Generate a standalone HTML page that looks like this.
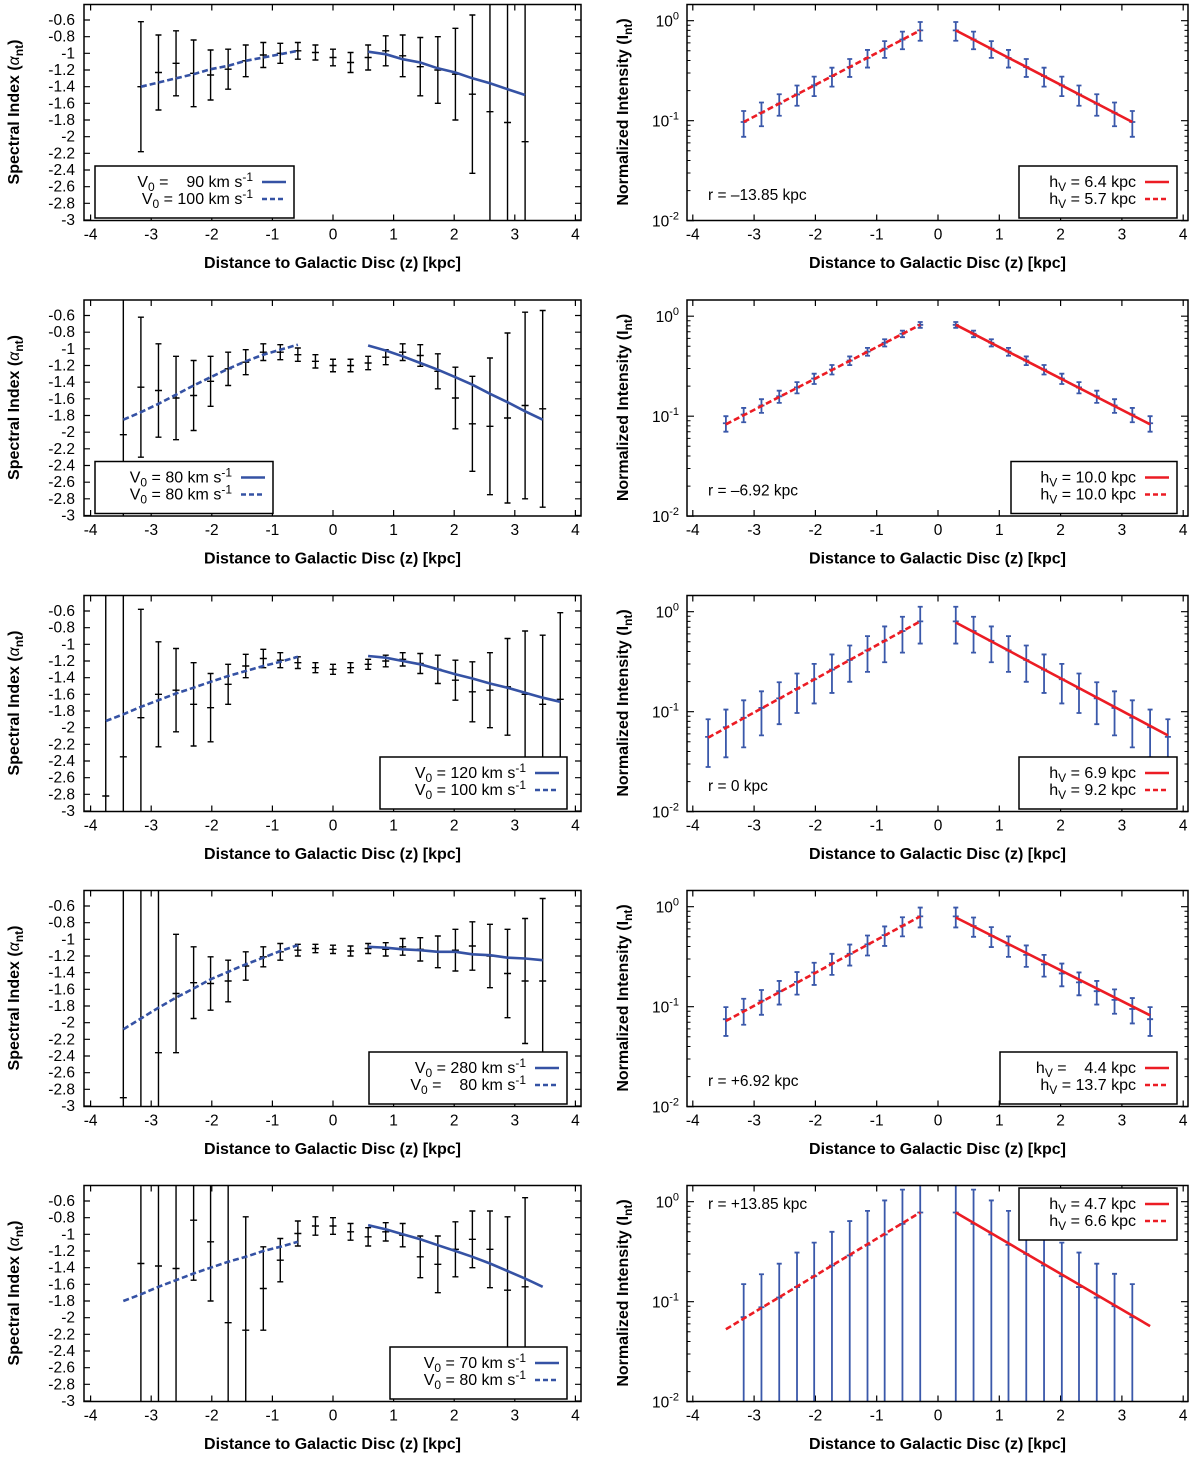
<!DOCTYPE html>
<html><head><meta charset="utf-8"><style>
html,body{margin:0;padding:0;background:#fff;overflow:hidden;}
svg{display:block;font-family:"Liberation Sans",Arial,sans-serif;}
</style></head><body>
<svg id="fig" width="1200" height="1457" viewBox="0 0 1200 1457" xmlns="http://www.w3.org/2000/svg"></svg>
<script>
// ---- shared axis data ----
const rowOffsets = [0, 295.5, 591, 886, 1181];
const xTicks = [-4,-3,-2,-1,0,1,2,3,4];
const yTicksLeft = [-0.6,-0.8,-1,-1.2,-1.4,-1.6,-1.8,-2,-2.2,-2.4,-2.6,-2.8,-3];
const yTickLabelsLeft = ["-0.6","-0.8","-1","-1.2","-1.4","-1.6","-1.8","-2","-2.2","-2.4","-2.6","-2.8","-3"];
const yDecades = [0,-1,-2];

const Z23 = [-3.17,-2.88,-2.59,-2.30,-2.02,-1.73,-1.44,-1.15,-0.87,-0.58,-0.29,0,0.29,0.58,0.87,1.15,1.44,1.73,2.02,2.30,2.59,2.88,3.17];
const Z25 = [-3.46,-3.17,-2.88,-2.59,-2.30,-2.02,-1.73,-1.44,-1.15,-0.87,-0.58,-0.29,0,0.29,0.58,0.87,1.15,1.44,1.73,2.02,2.30,2.59,2.88,3.17,3.46];
const Z27 = [-3.75,-3.46,-3.17,-2.88,-2.59,-2.30,-2.02,-1.73,-1.44,-1.15,-0.87,-0.58,-0.29,0,0.29,0.58,0.87,1.15,1.44,1.73,2.02,2.30,2.59,2.88,3.17,3.46,3.75];

// ---- left panels (spectral index) ----
const L1val = [-1.40,-1.23,-1.12,-1.24,-1.26,-1.19,-1.09,-1.02,-1.00,-0.97,-0.99,-1.05,-1.11,-1.05,-0.97,-1.03,-1.16,-1.20,-1.25,-1.49,-1.70,-1.83,-2.06];
const L1err = [0.78,0.45,0.39,0.40,0.30,0.24,0.19,0.15,0.12,0.10,0.09,0.10,0.12,0.15,0.18,0.25,0.35,0.40,0.55,0.95,3,3,3];
const L1dashZ = [-3.17,-2.88,-2.59,-2.30,-2.02,-1.73,-1.44,-1.15,-0.87,-0.58];
const L1dashV = [-1.40,-1.35,-1.30,-1.25,-1.19,-1.15,-1.09,-1.05,-1.01,-0.97];
const L1solZ = [0.58,0.87,1.15,1.44,1.73,2.02,2.30,2.59,2.88,3.17];
const L1solV = [-0.98,-1.01,-1.07,-1.11,-1.18,-1.23,-1.30,-1.36,-1.43,-1.50];

const L2val = [-2.03,-1.46,-1.50,-1.59,-1.56,-1.39,-1.24,-1.16,-1.04,-1.04,-1.07,-1.15,-1.20,-1.20,-1.17,-1.10,-1.04,-1.08,-1.27,-1.59,-1.90,-1.93,-1.83,-1.68,-1.72];
const L2err = [3,0.84,0.56,0.50,0.42,0.30,0.20,0.15,0.10,0.09,0.08,0.08,0.075,0.075,0.08,0.09,0.10,0.13,0.21,0.37,0.57,0.82,1.02,1.12,1.18];
const L2dashZ = [-3.46,-3.17,-2.88,-2.59,-2.30,-2.02,-1.73,-1.44,-1.15,-0.87,-0.58];
const L2dashV = [-1.85,-1.76,-1.66,-1.55,-1.44,-1.34,-1.24,-1.15,-1.07,-1.01,-0.95];
const L2solZ = [0.58,0.87,1.15,1.44,1.73,2.02,2.30,2.59,2.88,3.17,3.46];
const L2solV = [-0.96,-1.02,-1.09,-1.17,-1.25,-1.34,-1.43,-1.54,-1.64,-1.75,-1.85];

const L3val = [-2.82,-2.35,-1.88,-1.60,-1.55,-1.72,-1.76,-1.48,-1.26,-1.17,-1.19,-1.22,-1.28,-1.30,-1.28,-1.24,-1.20,-1.18,-1.23,-1.30,-1.43,-1.57,-1.55,-1.51,-1.60,-1.72,-1.66];
const L3err = [3,3,1.3,0.63,0.5,0.5,0.41,0.24,0.14,0.11,0.09,0.07,0.06,0.06,0.06,0.06,0.07,0.08,0.12,0.17,0.24,0.36,0.45,0.58,0.76,0.83,1.04];
const L3dashZ = [-3.75,-3.46,-3.17,-2.88,-2.59,-2.30,-2.02,-1.73,-1.44,-1.15,-0.87,-0.58];
const L3dashV = [-1.92,-1.84,-1.75,-1.67,-1.59,-1.52,-1.45,-1.38,-1.32,-1.26,-1.21,-1.15];
const L3solZ = [0.58,0.87,1.15,1.44,1.73,2.02,2.30,2.59,2.88,3.17,3.46,3.75];
const L3solV = [-1.14,-1.16,-1.20,-1.24,-1.30,-1.36,-1.41,-1.47,-1.52,-1.58,-1.64,-1.69];

const L4val = [-2.9,-0.3,-2.36,-1.65,-1.52,-1.53,-1.50,-1.32,-1.21,-1.15,-1.13,-1.11,-1.12,-1.14,-1.11,-1.12,-1.09,-1.12,-1.15,-1.13,-1.08,-1.20,-1.41,-1.50,-1.50];
const L4err = [3,3,3,0.71,0.43,0.32,0.25,0.17,0.12,0.10,0.07,0.05,0.05,0.06,0.06,0.08,0.10,0.14,0.19,0.25,0.29,0.38,0.53,0.75,0.99];
const L4dashZ = [-3.46,-3.17,-2.88,-2.59,-2.30,-2.02,-1.73,-1.44,-1.15,-0.87,-0.58];
const L4dashV = [-2.08,-1.95,-1.82,-1.70,-1.59,-1.48,-1.39,-1.30,-1.22,-1.14,-1.07];
const L4solZ = [0.58,0.87,1.15,1.44,1.73,2.02,2.30,2.59,2.88,3.17,3.46];
const L4solV = [-1.09,-1.10,-1.12,-1.13,-1.15,-1.15,-1.18,-1.19,-1.22,-1.23,-1.25];

const L5val = [-1.35,-1.38,-1.41,-0.83,-1.09,-2.06,-2.15,-1.65,-1.31,-0.99,-0.90,-0.90,-0.97,-1.03,-0.97,-1.01,-1.27,-1.36,-1.18,-1.06,-1.18,-1.67,-1.63];
const L5err = [3,3,3,0.72,0.71,3,1.36,0.50,0.26,0.15,0.11,0.10,0.10,0.11,0.11,0.14,0.25,0.34,0.33,0.34,0.46,0.88,1.07];
const L5dashZ = [-3.46,-3.17,-2.88,-2.59,-2.30,-2.02,-1.73,-1.44,-1.15,-0.87,-0.58];
const L5dashV = [-1.80,-1.72,-1.63,-1.55,-1.47,-1.40,-1.33,-1.27,-1.20,-1.15,-1.09];
const L5solZ = [0.58,0.87,1.15,1.44,1.73,2.02,2.30,2.59,2.88,3.17,3.46];
const L5solV = [-0.89,-0.94,-1.00,-1.06,-1.13,-1.20,-1.27,-1.35,-1.44,-1.53,-1.63];

const leftLegendSolid = ["\u2007 90","80","120","280","70"];
const leftLegendDash = ["100","80","100","\u2007 80","80"];

// ---- right panels (normalized intensity) ----
const R1z = [-3.17,-2.88,-2.59,-2.30,-2.02,-1.73,-1.44,-1.15,-0.87,-0.58,-0.29,0.29,0.58,0.87,1.15,1.44,1.73,2.02,2.30,2.59,2.88,3.17];
const R1v = [0.097,0.12,0.148,0.183,0.226,0.279,0.344,0.425,0.525,0.648,0.80,0.80,0.648,0.525,0.425,0.344,0.279,0.226,0.183,0.148,0.12,0.097];
const R1e = [0.028,0.032,0.036,0.042,0.05,0.06,0.07,0.085,0.1,0.13,0.17,0.17,0.13,0.1,0.085,0.07,0.06,0.05,0.042,0.036,0.032,0.028];
const R1fitDash = [-3.17,0.097,-0.29,0.80];
const R1fitSolid = [0.29,0.80,3.17,0.097];

const R2z = [-3.46,-3.17,-2.88,-2.59,-2.30,-2.02,-1.73,-1.44,-1.15,-0.87,-0.58,-0.29,0.29,0.58,0.87,1.15,1.44,1.73,2.02,2.30,2.59,2.88,3.17,3.46];
const R2v = [0.085,0.104,0.128,0.158,0.194,0.238,0.293,0.36,0.442,0.543,0.667,0.82,0.82,0.667,0.543,0.442,0.36,0.293,0.238,0.194,0.158,0.128,0.104,0.085];
const R2e = [0.015,0.017,0.02,0.022,0.025,0.028,0.032,0.036,0.04,0.045,0.05,0.055,0.055,0.05,0.045,0.04,0.036,0.032,0.028,0.025,0.022,0.02,0.017,0.015];
const R2fitDash = [-3.46,0.083,-0.29,0.82];
const R2fitSolid = [0.29,0.82,3.46,0.083];

const R3z = [-3.75,-3.46,-3.17,-2.88,-2.59,-2.30,-2.02,-1.73,-1.44,-1.15,-0.87,-0.58,-0.29,0.29,0.58,0.87,1.15,1.44,1.73,2.02,2.30,2.59,2.88,3.17,3.46,3.75];
const R3v = [0.056,0.07,0.087,0.109,0.136,0.169,0.211,0.264,0.329,0.41,0.512,0.64,0.8,0.8,0.64,0.512,0.41,0.329,0.264,0.211,0.169,0.136,0.109,0.087,0.07,0.056];
const R3e = [0.028,0.035,0.043,0.051,0.061,0.072,0.09,0.11,0.13,0.16,0.2,0.25,0.32,0.32,0.25,0.2,0.16,0.13,0.11,0.09,0.072,0.061,0.051,0.043,0.035,0.028];
const R3fitDash = [-3.75,0.055,-0.29,0.80];
const R3fitSolid = [0.29,0.78,3.75,0.058];

const R4z = [-3.46,-3.17,-2.88,-2.59,-2.30,-2.02,-1.73,-1.44,-1.15,-0.87,-0.58,-0.29,0.29,0.58,0.87,1.15,1.44,1.73,2.02,2.30,2.59,2.88,3.17,3.46];
const R4v = [0.075,0.093,0.115,0.143,0.177,0.22,0.273,0.338,0.42,0.52,0.645,0.8,0.8,0.64,0.51,0.41,0.33,0.265,0.215,0.175,0.143,0.117,0.095,0.075];
const R4e = [0.024,0.027,0.032,0.038,0.045,0.055,0.065,0.08,0.095,0.115,0.14,0.18,0.18,0.14,0.115,0.095,0.08,0.065,0.055,0.045,0.038,0.032,0.027,0.024];
const R4fitDash = [-3.46,0.072,-0.29,0.80];
const R4fitSolid = [0.29,0.78,3.46,0.082];

const R5z = [-3.17,-2.88,-2.59,-2.30,-2.02,-1.73,-1.44,-1.15,-0.87,-0.58,-0.29,0.29,0.58,0.87,1.15,1.44,1.73,2.02,2.30,2.59,2.88,3.17];
const R5v = [0.07,0.088,0.11,0.14,0.18,0.23,0.29,0.37,0.47,0.6,0.78,0.78,0.6,0.47,0.37,0.3,0.23,0.18,0.14,0.11,0.09,0.07];
const R5e = [0.08,0.1,0.13,0.17,0.21,0.27,0.35,0.44,0.56,0.72,0.95,0.95,0.72,0.56,0.44,0.34,0.27,0.21,0.17,0.13,0.1,0.08];
const R5fitDash = [-3.46,0.053,-0.29,0.78];
const R5fitSolid = [0.29,0.78,3.46,0.057];

const rightLegendSolid = ["6.4","10.0","6.9","\u2007 4.4","4.7"];
const rightLegendDash = ["5.7","10.0","9.2","13.7","6.6"];
const rLabels = ["r = \u201313.85 kpc","r = \u20136.92 kpc","r = 0 kpc","r = +6.92 kpc","r = +13.85 kpc"];

const BLUE = "#3552a4", RED = "#ec1c24", EBLUE = "#3a58aa";
const NS = "http://www.w3.org/2000/svg";
const svg = document.getElementById('fig');

function mk(tag, attrs, parent) {
  const e = document.createElementNS(NS, tag);
  for (const k in attrs) e.setAttribute(k, attrs[k]);
  (parent || svg).appendChild(e);
  return e;
}

const LX0 = 333, LXS = 60.6, LBL = 84, LBR = 581;
function lx(z){ return LX0 + z*LXS; }
function ly(row, a){ return rowOffsets[row] + 20 + (-0.6 - a)*83.333; }
const RX0 = 938, RXS = 61.3, RBL = 687, RBR = 1188;
function rx(z){ return RX0 + z*RXS; }
function ry(row, v){ return rowOffsets[row] + 20.7 - Math.log10(v)*100; }

function pathFrom(xs, ys) {
  return xs.map((x,i)=>(i?'L':'M')+x.toFixed(1)+','+ys[i].toFixed(1)).join(' ');
}

function axisText(g, x, y, txt, anchor) {
  const t = mk('text', {x:x, y:y, 'font-size':15.5, 'text-anchor':anchor||'middle', fill:'#000'}, g);
  t.textContent = txt;
  return t;
}

function drawXAxis(g, row, map, bl, br) {
  const top = rowOffsets[row] + 4.5, bot = rowOffsets[row] + 220.5;
  xTicks.forEach(v=>{
    const x = map(v);
    const tk = mk('path', {d:`M${x},${bot}v-6M${x},${top}v6`, stroke:'#000', 'stroke-width':1.2}, g);
    
    
    const lb = axisText(g, x, bot + 19, String(v));
    
    
  });
  const t = mk('text', {x:(bl+br)/2, y:rowOffsets[row]+268, 'font-size':16, 'font-weight':'bold', 'text-anchor':'middle'}, g);
  t.textContent = 'Distance to Galactic Disc (z) [kpc]';
  
  
}

function legend(g, x1, x2, y1, color, labels, isRight) {
  const box = mk('rect', {x:x1, y:y1, width:x2-x1, height:52, fill:'#fff', stroke:'#000', 'stroke-width':1.5}, g);
  
  
  labels.forEach((lab, i)=>{
    const yy = y1 + (i===0 ? 21 : 38);
    const t = mk('text', {x:x2-41, y:yy, 'font-size':16, 'text-anchor':'end'}, g);
    
    
    if (!isRight) {
      const a = mk('tspan', {}, t); a.textContent = 'V';
      const b = mk('tspan', {dy:4, 'font-size':12}, t); b.textContent = '0';
      const c = mk('tspan', {dy:-4}, t); c.textContent = ' = ' + lab + ' km s';
      const d = mk('tspan', {dy:-6, 'font-size':12}, t); d.textContent = '-1';
    } else {
      const a = mk('tspan', {}, t); a.textContent = 'h';
      const b = mk('tspan', {dy:4, 'font-size':12}, t); b.textContent = 'V';
      const c = mk('tspan', {dy:-4}, t); c.textContent = ' = ' + lab + ' kpc';
    }
    const s = mk('line', {x1:x2-32, x2:x2-8, y1:yy-5, y2:yy-5, stroke:color, 'stroke-width':2.5}, g);
    if (i===1) s.setAttribute('stroke-dasharray', '5,3');
    
    
  });
}

function leftPanel(row, zs, vals, errs, dz, dv, sz, sv, lg) {
  const g = mk('g', {});
  
  
  const top = rowOffsets[row] + 4.5, bot = rowOffsets[row] + 220.5;
  const cp = mk('clipPath', {id:'cl'+row}, g);
  mk('rect', {x:LBL, y:top, width:LBR-LBL, height:bot-top}, cp);
  yTicksLeft.forEach((v,i)=>{
    const y = ly(row, v);
    const tk = mk('path', {d:`M${LBL},${y}h6M${LBR},${y}h-6`, stroke:'#000', 'stroke-width':1.2}, g);
    
    
    const lb = axisText(g, LBL-9, y+5, yTickLabelsLeft[i], 'end');
    
    
  });
  drawXAxis(g, row, lx, LBL, LBR);
  const yt = mk('text', {transform:`translate(19,${rowOffsets[row]+112}) rotate(-90)`, 'font-size':16, 'font-weight':'bold', 'text-anchor':'middle'}, g);
  
  
  const y1 = mk('tspan', {}, yt); y1.textContent = 'Spectral Index (';
  const y2 = mk('tspan', {'font-style':'italic','font-weight':'normal'}, yt); y2.textContent = '\u03B1';
  const y3 = mk('tspan', {dy:4, 'font-size':12}, yt); y3.textContent = 'nt';
  const y4 = mk('tspan', {dy:-4}, yt); y4.textContent = ')';
  const inner = mk('g', {'clip-path':`url(#cl${row})`}, g);
  zs.forEach((z,i)=>{
    const x = lx(z), yc = ly(row, vals[i]), yt2 = ly(row, vals[i]+errs[i]), yb = ly(row, vals[i]-errs[i]);
    const b = mk('path', {d:`M${x},${yt2}V${yb}M${x-3},${yt2}h6M${x-3},${yb}h6M${x-3.5},${yc}h7`, stroke:'#000', 'stroke-width':1.4, fill:'none'}, inner);
    
    
  });
  const dl = mk('path', {d:pathFrom(dz.map(lx), dv.map(v=>ly(row,v))), stroke:BLUE, 'stroke-width':2.6, fill:'none', 'stroke-dasharray':'6,3'}, inner);
  
  
  const sl = mk('path', {d:pathFrom(sz.map(lx), sv.map(v=>ly(row,v))), stroke:BLUE, 'stroke-width':2.6, fill:'none'}, inner);
  
  
  legend(g, lg[0], lg[1], rowOffsets[row]+166, BLUE, [lg[2], lg[3]], false);
  const fr = mk('rect', {x:LBL, y:top, width:LBR-LBL, height:bot-top, fill:'none', stroke:'#000', 'stroke-width':1.5}, g);
  
  
}

function rightPanel(row, zs, vs, es, fd, fs, lg, rPos) {
  const g = mk('g', {});
  
  
  const top = rowOffsets[row] + 4.5, bot = rowOffsets[row] + 220.5;
  const cp = mk('clipPath', {id:'cr'+row}, g);
  mk('rect', {x:RBL, y:top, width:RBR-RBL, height:bot-top}, cp);
  yDecades.forEach(d=>{
    const y = ry(row, Math.pow(10,d));
    const tk = mk('path', {d:`M${RBL},${y}h7M${RBR},${y}h-7`, stroke:'#000', 'stroke-width':1.2}, g);
    
    
    const t = mk('text', {x:RBL-8, y:y+6, 'font-size':15.5, 'text-anchor':'end'}, g);
    
    
    const a = mk('tspan', {}, t); a.textContent = '10';
    const b = mk('tspan', {dy:-7, 'font-size':11}, t); b.textContent = String(d===0?'0':d);
    if (d > -2) {
      for (let m=2; m<=9; m++) {
        const ym = ry(row, m*Math.pow(10,d-1));
        const mt = mk('path', {d:`M${RBL},${ym}h3.5M${RBR},${ym}h-3.5`, stroke:'#000', 'stroke-width':1}, g);
        
        
      }
    }
  });
  drawXAxis(g, row, rx, RBL, RBR);
  const yt = mk('text', {transform:`translate(628,${rowOffsets[row]+112}) rotate(-90)`, 'font-size':16, 'font-weight':'bold', 'text-anchor':'middle'}, g);
  
  
  const y1 = mk('tspan', {}, yt); y1.textContent = 'Normalized Intensity (I';
  const y3 = mk('tspan', {dy:4, 'font-size':12}, yt); y3.textContent = 'nt';
  const y4 = mk('tspan', {dy:-4}, yt); y4.textContent = ')';
  const inner = mk('g', {'clip-path':`url(#cr${row})`}, g);
  zs.forEach((z,i)=>{
    const x = rx(z), yc = ry(row, vs[i]), yt2 = ry(row, vs[i]+es[i]);
    const lo = vs[i]-es[i];
    const yb = lo > 0.001 ? ry(row, lo) : bot + 5;
    let d = `M${x},${yt2}V${yb}M${x-2.5},${yt2}h5M${x-3},${yc}h6`;
    if (lo > 0.001) d += `M${x-2.5},${yb}h5`;
    const b = mk('path', {d:d, stroke:EBLUE, 'stroke-width':1.8, fill:'none'}, inner);
    
    
  });
  const dl = mk('line', {x1:rx(fd[0]), y1:ry(row,fd[1]), x2:rx(fd[2]), y2:ry(row,fd[3]), stroke:RED, 'stroke-width':2.6, 'stroke-dasharray':'6,3'}, inner);
  
  
  const sl = mk('line', {x1:rx(fs[0]), y1:ry(row,fs[1]), x2:rx(fs[2]), y2:ry(row,fs[3]), stroke:RED, 'stroke-width':2.6}, inner);
  
  
  const rt = mk('text', {x:708, y:rPos, 'font-size':15.5}, g);
  rt.textContent = rLabels[row];
  
  
  legend(g, lg[0], 1177, lg[1], RED, [lg[2], lg[3]], true);
  const fr = mk('rect', {x:RBL, y:top, width:RBR-RBL, height:bot-top, fill:'none', stroke:'#000', 'stroke-width':1.5}, g);
  
  
}

leftPanel(0, Z23, L1val, L1err, L1dashZ, L1dashV, L1solZ, L1solV, [95,294,leftLegendSolid[0],leftLegendDash[0]]);
leftPanel(1, Z25, L2val, L2err, L2dashZ, L2dashV, L2solZ, L2solV, [95,273,leftLegendSolid[1],leftLegendDash[1]]);
leftPanel(2, Z27, L3val, L3err, L3dashZ, L3dashV, L3solZ, L3solV, [380,567,leftLegendSolid[2],leftLegendDash[2]]);
leftPanel(3, Z25, L4val, L4err, L4dashZ, L4dashV, L4solZ, L4solV, [369,567,leftLegendSolid[3],leftLegendDash[3]]);
leftPanel(4, Z23, L5val, L5err, L5dashZ, L5dashV, L5solZ, L5solV, [390,567,leftLegendSolid[4],leftLegendDash[4]]);

rightPanel(0, R1z, R1v, R1e, R1fitDash, R1fitSolid, [1019, rowOffsets[0]+166, rightLegendSolid[0], rightLegendDash[0]], rowOffsets[0]+200);
rightPanel(1, R2z, R2v, R2e, R2fitDash, R2fitSolid, [1011, rowOffsets[1]+166, rightLegendSolid[1], rightLegendDash[1]], rowOffsets[1]+200);
rightPanel(2, R3z, R3v, R3e, R3fitDash, R3fitSolid, [1019, rowOffsets[2]+166, rightLegendSolid[2], rightLegendDash[2]], rowOffsets[2]+200);
rightPanel(3, R4z, R4v, R4e, R4fitDash, R4fitSolid, [1000, rowOffsets[3]+166, rightLegendSolid[3], rightLegendDash[3]], rowOffsets[3]+200);
rightPanel(4, R5z, R5v, R5e, R5fitDash, R5fitSolid, [1019, rowOffsets[4]+7, rightLegendSolid[4], rightLegendDash[4]], rowOffsets[4]+28);
</script>
</body></html>
